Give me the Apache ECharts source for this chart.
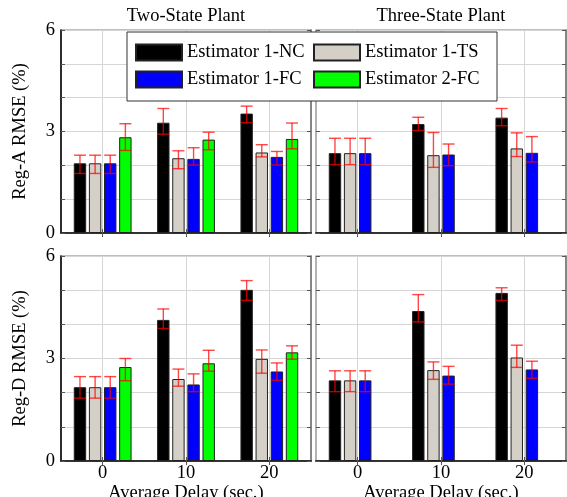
<!DOCTYPE html>
<html><head><meta charset="utf-8">
<script src="https://cdn.jsdelivr.net/npm/echarts@6/dist/echarts.min.js"></script>
<style>html,body{margin:0;padding:0;background:#fff}#c{width:567px;height:497px}</style>
</head><body><div id="c"></div>
<script>
// ---------- DATA ----------
const categories = ['0', '10', '20'];
const estimators = ['Estimator 1-NC', 'Estimator 1-TS', 'Estimator 1-FC', 'Estimator 2-FC'];
const panelTitles = ['Two-State Plant', 'Three-State Plant'];
const rowLabels = ['Reg-A RMSE (%)', 'Reg-D RMSE (%)'];
const xAxisTitle = 'Average Delay (sec.)';
const yTickLabels = [0, 3, 6];

// rows = estimators (NC, TS, FC, 2-FC), columns = delay categories
const twoA_mean = [[2.06, 3.26, 3.53], [2.06, 2.21, 2.38], [2.06, 2.19, 2.25], [2.83, 2.76, 2.78]];
const twoA_low  = [[1.76, 2.92, 3.26], [1.76, 1.90, 2.25], [1.76, 2.01, 2.01], [2.44, 2.46, 2.49]];
const twoA_high = [[2.30, 3.68, 3.75], [2.30, 2.43, 2.61], [2.30, 2.52, 2.41], [3.23, 2.98, 3.25]];

const threeA_mean = [[2.36, 3.22, 3.41], [2.36, 2.30, 2.50], [2.36, 2.32, 2.37]];
const threeA_low  = [[2.02, 3.03, 3.17], [2.02, 1.94, 2.26], [2.02, 1.99, 2.10]];
const threeA_high = [[2.80, 3.42, 3.68], [2.80, 2.97, 2.96], [2.80, 2.63, 2.85]];

const twoD_mean = [[2.16, 4.13, 5.01], [2.16, 2.40, 2.99], [2.16, 2.24, 2.62], [2.75, 2.86, 3.18]];
const twoD_low  = [[1.84, 3.88, 4.70], [1.84, 2.19, 2.57], [1.84, 2.03, 2.36], [2.35, 2.63, 2.98]];
const twoD_high = [[2.47, 4.45, 5.28], [2.47, 2.69, 3.25], [2.47, 2.55, 2.87], [3.00, 3.24, 3.37]];

const threeD_mean = [[2.36, 4.39, 4.92], [2.36, 2.66, 3.03], [2.36, 2.50, 2.68]];
const threeD_low  = [[2.03, 4.07, 4.70], [2.03, 2.39, 2.74], [2.03, 2.25, 2.42]];
const threeD_high = [[2.64, 4.87, 5.07], [2.64, 2.90, 3.39], [2.64, 2.77, 2.92]];

// ---------- STYLE ----------
const FONT = '"Liberation Serif", "Times New Roman", serif';
const FS = 18.5;
const colors = ['#000000', '#d4d0c8', '#0000ff', '#00ff00'];
const BW = 12.4, GAP = 0.22, PITCH = BW * (1 + GAP), CAP = 12;
const errStyle = { stroke: 'rgba(255,0,0,0.72)', lineWidth: 1.4 };

const grids = [
  { left: 61, top: 30, width: 250, height: 203 },
  { left: 316, top: 30, width: 250, height: 203 },
  { left: 61, top: 256, width: 250, height: 205 },
  { left: 316, top: 256, width: 250, height: 205 }
];
const panels = [
  { mean: twoA_mean, low: twoA_low, high: twoA_high, leftCol: true, bottomRow: false, row: 0 },
  { mean: threeA_mean, low: threeA_low, high: threeA_high, leftCol: false, bottomRow: false, row: 0 },
  { mean: twoD_mean, low: twoD_low, high: twoD_high, leftCol: true, bottomRow: true, row: 1 },
  { mean: threeD_mean, low: threeD_low, high: threeD_high, leftCol: false, bottomRow: true, row: 1 }
];

function makeErr(e) {
  return function (params, api) {
    const i = api.value(0);
    const p0 = api.coord([i, api.value(1)]);
    const p1 = api.coord([i, api.value(2)]);
    const x = p0[0] + (e - (estimators.length - 1) / 2) * PITCH;
    const h = CAP / 2;
    return {
      type: 'group', children: [
        { type: 'line', shape: { x1: x, y1: p0[1], x2: x, y2: p1[1] }, style: errStyle },
        { type: 'line', shape: { x1: x - h, y1: p0[1], x2: x + h, y2: p0[1] }, style: errStyle },
        { type: 'line', shape: { x1: x - h, y1: p1[1], x2: x + h, y2: p1[1] }, style: errStyle }
      ]
    };
  };
}

const xAxes = [], yAxes = [], series = [];
const tickStyle = { show: true, inside: true, length: 4, lineStyle: { color: '#555' } };
panels.forEach((p, g) => {
  xAxes.push({
    type: 'category', gridIndex: g, data: categories, position: 'bottom',
    axisLine: { show: true, lineStyle: { color: '#000', width: 1.5 } },
    axisTick: Object.assign({ alignWithLabel: true }, tickStyle),
    axisLabel: { show: p.bottomRow, fontFamily: FONT, fontSize: FS, color: '#000', margin: 3 },
    splitLine: { show: true, alignWithLabel: true, lineStyle: { color: '#d6d6d6', width: 1 } },
    name: p.bottomRow ? xAxisTitle : '', nameLocation: 'middle', nameGap: 12,
    nameTextStyle: { fontFamily: FONT, fontSize: FS, color: '#000' }
  });
  yAxes.push({
    type: 'value', gridIndex: g, min: 0, max: 6, interval: 1, position: 'left',
    axisLine: { show: p.leftCol, lineStyle: { color: '#000', width: 1.5 } },
    axisTick: tickStyle,
    axisLabel: {
      show: p.leftCol, fontFamily: FONT, fontSize: FS, color: '#000', margin: 6,
      formatter: v => (yTickLabels.indexOf(v) >= 0 ? String(v) : '')
    },
    splitLine: { show: true, lineStyle: { color: '#d6d6d6', width: 1 } },
    name: p.leftCol ? rowLabels[p.row] : '', nameLocation: 'middle', nameGap: 31,
    nameTextStyle: { fontFamily: FONT, fontSize: FS, color: '#000' }
  });
  estimators.forEach((name, e) => {
    series.push({
      type: 'bar', name, xAxisIndex: g, yAxisIndex: g,
      data: p.mean[e] ? p.mean[e] : [],
      barWidth: BW, barGap: (GAP * 100) + '%',
      itemStyle: { color: colors[e], borderColor: '#222', borderWidth: 1 },
      z: 2, silent: true
    });
  });
  estimators.forEach((name, e) => {
    if (!p.mean[e]) return;
    series.push({
      type: 'custom', xAxisIndex: g, yAxisIndex: g, z: 5, silent: true,
      renderItem: makeErr(e), encode: { x: 0, y: [1, 2] },
      data: categories.map((c, i) => [i, p.low[e][i], p.high[e][i]])
    });
  });
});
// mirrored frame axes (top and right) carrying only ticks
panels.forEach((p, g) => {
  xAxes.push({
    type: 'category', gridIndex: g, data: categories, position: 'top',
    axisLine: { show: true, lineStyle: { color: '#333', width: 1.5 } },
    axisTick: Object.assign({ alignWithLabel: true }, tickStyle),
    axisLabel: { show: false }, splitLine: { show: false }
  });
  yAxes.push({
    type: 'value', gridIndex: g, min: 0, max: 6, interval: 1, position: 'right',
    axisLine: { show: true, lineStyle: { color: '#777', width: 1.5 } },
    axisTick: tickStyle, axisLabel: { show: false }, splitLine: { show: false }
  });
});

const chart = echarts.init(document.getElementById('c'), null, { renderer: 'canvas' });
chart.setOption({
  animation: false,
  backgroundColor: '#fff',
  grid: grids.map(r => Object.assign({
    show: true, borderColor: '#808080', borderWidth: 1.2, backgroundColor: 'transparent',
    containLabel: false, outerBoundsMode: 'none'
  }, r)),
  xAxis: xAxes,
  yAxis: yAxes,
  legend: {
    data: estimators, left: 127, top: 32, width: 352, orient: 'horizontal',
    icon: 'rect', itemWidth: 46, itemHeight: 16, itemGap: 8,
    padding: [11, 14, 12, 8], backgroundColor: '#fff', borderColor: '#333', borderWidth: 1,
    textStyle: { fontFamily: FONT, fontSize: FS, color: '#000', width: 118, lineHeight: 18 },
    selectedMode: false, z: 20
  },
  graphic: panelTitles.map((t, k) => ({
    type: 'text', x: grids[k].left + grids[k].width / 2, y: 16,
    style: { text: t, font: FS + 'px ' + FONT, fill: '#000', align: 'center', verticalAlign: 'middle' }
  })),
  series
});
</script></body></html>
